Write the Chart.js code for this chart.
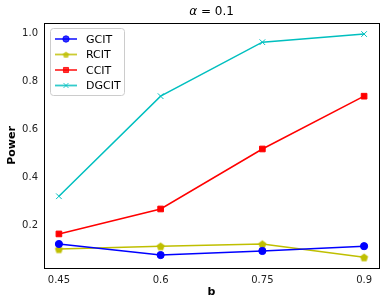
<!DOCTYPE html>
<html>
<head>
<meta charset="utf-8">
<script src="https://cdn.jsdelivr.net/npm/chart.js@4"></script>
<style>
  html, body { margin:0; padding:0; background:#fff; }
  #wrap { width:389px; height:306px; }
</style>
</head>
<body>
<div id="wrap"><canvas id="powerChart" width="389" height="306"></canvas></div>
<script>
const bValues = [0.45, 0.6, 0.75, 0.9];
const gcit = [0.121, 0.075, 0.092, 0.112];
const rcit = [0.100, 0.112, 0.121, 0.066];
const ccit = [0.163, 0.267, 0.517, 0.737];
const dgcit = [0.320, 0.737, 0.962, 0.996];
const yTicks = [0.2, 0.4, 0.6, 0.8, 1.0];

const font = "DejaVu Sans";

// pentagon marker like matplotlib "p"
function pentagon(r, color){
    const c = document.createElement("canvas");
    const s = Math.ceil(r * 2 + 2);
    c.width = s; c.height = s;
    const g = c.getContext("2d");
    g.fillStyle = color;
    g.beginPath();
    for(let i = 0; i < 5; i++){
        const a = -Math.PI / 2 + i * 2 * Math.PI / 5;
        const x = s / 2 + r * Math.cos(a), y = s / 2 + 0.5 + r * Math.sin(a);
        if(i === 0) g.moveTo(x, y); else g.lineTo(x, y);
    }
    g.closePath();
    g.fill();
    return c;
}

function pts(arr){
    return bValues.map((b, i) => ({x:b, y:arr[i]}));
}

const series = [
    {label:"GCIT", data:gcit, color:"#0000ff", style:"circle", r:3.6, lr:3.2},
    {label:"RCIT", data:rcit, color:"#bfbf00", style:pentagon(4.2, "#bfbf00"), r:4, lr:3.2},
    {label:"CCIT", data:ccit, color:"#ff0000", style:"rect", r:4, lr:3.6},
    {label:"DGCIT", data:dgcit, color:"#00bfbf", style:"crossRot", r:4, lr:3.6}
];
const legendPentagon = pentagon(3.4, "#bfbf00");

const legendInside = {
    id:"legendInside",
    afterDraw(chart){
        const ctx = chart.ctx;
        const a = chart.chartArea;
        const x0 = a.left + 6, y0 = a.top + 5;
        const w = 74, h = 67;
        ctx.save();
        ctx.fillStyle = "rgba(255,255,255,0.8)";
        ctx.strokeStyle = "#cccccc";
        ctx.lineWidth = 1;
        ctx.beginPath();
        ctx.roundRect(x0 + 0.5, y0 + 0.5, w, h, 3);
        ctx.fill();
        ctx.stroke();
        ctx.font = "11px " + font;
        ctx.textBaseline = "middle";
        series.forEach((s, i) => {
            const y = y0 + 11 + i * 15.5;
            ctx.globalAlpha = 0.8;
            ctx.strokeStyle = s.color;
            ctx.lineWidth = 1.8;
            ctx.beginPath();
            ctx.moveTo(x0 + 5, y);
            ctx.lineTo(x0 + 27, y);
            ctx.stroke();
            ctx.fillStyle = s.color;
            ctx.lineWidth = 1;
            const style = typeof s.style === "string" ? s.style : legendPentagon;
            Chart.helpers.drawPoint(ctx, {pointStyle:style, radius:s.lr, borderWidth:1, rotation:0}, x0 + 16, y);
            ctx.globalAlpha = 1;
            ctx.fillStyle = "#000";
            ctx.fillText(s.label, x0 + 36, y + 1);
        });
        ctx.restore();
    }
};

const textBits = {
    id:"textBits",
    afterDraw(chart){
        const ctx = chart.ctx;
        const a = chart.chartArea;
        ctx.save();
        // box spines
        ctx.strokeStyle = "#000";
        ctx.lineWidth = 1;
        ctx.strokeRect(Math.round(a.left) + 0.5, Math.round(a.top) + 0.5,
            Math.round(a.right - a.left), Math.round(a.bottom - a.top));
        ctx.fillStyle = "#000";
        ctx.textBaseline = "middle";
        const cx = (a.left + a.right) / 2;
        ctx.font = "italic 12px " + font;
        const alphaW = ctx.measureText("α").width;
        ctx.font = "12px " + font;
        const restW = ctx.measureText(" = 0.1").width;
        const start = cx - (alphaW + restW) / 2;
        ctx.textAlign = "left";
        ctx.font = "italic 12px " + font;
        ctx.fillText("α", start, 12);
        ctx.font = "12px " + font;
        ctx.fillText(" = 0.1", start + alphaW, 12);
        ctx.textAlign = "center";
        ctx.font = "bold 11px " + font;
        ctx.fillText("b", cx, 292);
        ctx.translate(12, (a.top + a.bottom) / 2);
        ctx.rotate(-Math.PI / 2);
        ctx.fillText("Power", 0, 0);
        ctx.restore();
    }
};

new Chart(document.getElementById("powerChart"), {
    type:"line",
    data:{
        datasets:series.map(s => ({
            label:s.label,
            data:pts(s.data),
            borderColor:s.color,
            backgroundColor:s.color,
            pointStyle:s.style,
            pointRadius:s.r,
            pointBorderWidth:1,
            borderWidth:1.5,
            tension:0
        }))
    },
    options:{
        responsive:false,
        animation:false,
        layout:{padding:{top:23, right:10, left:0, bottom:0}},
        plugins:{legend:{display:false}, title:{display:false}, tooltip:{enabled:false}},
        scales:{
            x:{
                type:"linear",
                min:0.428,
                max:0.922,
                afterBuildTicks(axis){ axis.ticks = bValues.map(v => ({value:v})); },
                afterFit(axis){ axis.height = 38; },
                grid:{display:false, drawTicks:true, tickLength:4, tickColor:"#000"},
                border:{color:"#000", width:1},
                ticks:{color:"#222", font:{family:font, size:10}, padding:2,
                    callback:v => String(v)}
            },
            y:{
                min:0.021,
                max:1.042,
                afterBuildTicks(axis){ axis.ticks = yTicks.map(v => ({value:v})); },
                afterFit(axis){ axis.width = 44; },
                grid:{display:false, drawTicks:true, tickLength:4, tickColor:"#000"},
                border:{color:"#000", width:1},
                ticks:{color:"#222", font:{family:font, size:10}, padding:2,
                    callback:v => v.toFixed(1)}
            }
        }
    },
    plugins:[legendInside, textBits]
});
</script>
</body>
</html>
